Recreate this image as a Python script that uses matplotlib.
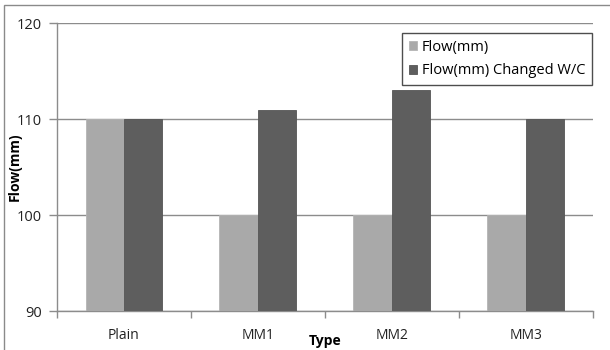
import matplotlib
matplotlib.use("Agg")
import matplotlib.pyplot as plt
from matplotlib.patches import Rectangle
from matplotlib.ticker import FixedLocator, NullFormatter
import numpy as np

categories = ["Plain", "MM1", "MM2", "MM3"]
flow = [110, 100, 100, 100]
flow_changed = [110, 111, 113, 110]
series_names = ["Flow(mm)", "Flow(mm) Changed W/C"]
y_ticks = [90, 100, 110, 120]

plt.rcParams["font.family"] = ["Open Sans", "DejaVu Sans"]

fig = plt.figure(figsize=(6.1, 3.5), dpi=100)
ax = fig.add_axes([0.0934, 0.111, 0.8786, 0.823])

# outer chart-area border
fig.patches.append(Rectangle((4 / 610, -0.05), 1.2, 1 - 5 / 350 + 0.05,
                             transform=fig.transFigure, fill=False,
                             edgecolor="#8a8a8a", linewidth=1.0, zorder=0))

x = np.arange(len(categories))
w = 0.287
light = "#a9a9a9"
dark = "#5e5e5e"
ax.bar(x - w / 2, flow, width=w, color=light, edgecolor="#b4b4b4",
       linewidth=0.6, label=series_names[0], zorder=3)
ax.bar(x + w / 2, flow_changed, width=w, color=dark, edgecolor="#555555",
       linewidth=0.6, label=series_names[1], zorder=3)

ax.set_xlim(-0.5, len(categories) - 0.5)
ax.set_ylim(90, 120)
ax.set_yticks(y_ticks)
ax.yaxis.grid(True, color="#8c8c8c", linewidth=1.0, zorder=0)
ax.set_axisbelow(True)

# category boundaries as ticks, labels centred between them
ax.xaxis.set_major_locator(FixedLocator(np.arange(len(categories) + 1) - 0.5))
ax.xaxis.set_major_formatter(NullFormatter())
ax.xaxis.set_minor_locator(FixedLocator(x))
ax.set_xticks(x, categories, minor=True)
ax.tick_params(axis="x", which="major", direction="out", length=5,
               color="#8c8c8c", width=1.0)
ax.tick_params(axis="x", which="minor", length=0, pad=12, labelsize=10,
               labelcolor="#222222")
ax.tick_params(axis="y", direction="out", length=6, color="#8c8c8c",
               width=1.0, labelsize=10.5, labelcolor="#222222", pad=5)

for side in ["top", "right"]:
    ax.spines[side].set_visible(False)
for side in ["left", "bottom"]:
    ax.spines[side].set_color("#8c8c8c")
    ax.spines[side].set_linewidth(1.0)

ax.set_ylabel("Flow(mm)", fontsize=10, fontweight="bold")
ax.yaxis.set_label_coords(-0.066, 0.5)
fig.text(325 / 610, 1 - 341 / 350, "Type", fontsize=10, fontweight="bold",
         ha="center", va="center")

leg = ax.legend(loc="upper right", bbox_to_anchor=(1 - 1 / 536, 1 - 10 / 288),
                fontsize=10.5, frameon=True, fancybox=False, handlelength=0.6,
                handleheight=0.6, handletextpad=0.3, borderpad=0.45,
                labelspacing=0.6, borderaxespad=0)
leg.get_frame().set_edgecolor("#222222")
leg.get_frame().set_linewidth(1.0)
leg.set_zorder(5)

fig.savefig("out.png", dpi=100)
